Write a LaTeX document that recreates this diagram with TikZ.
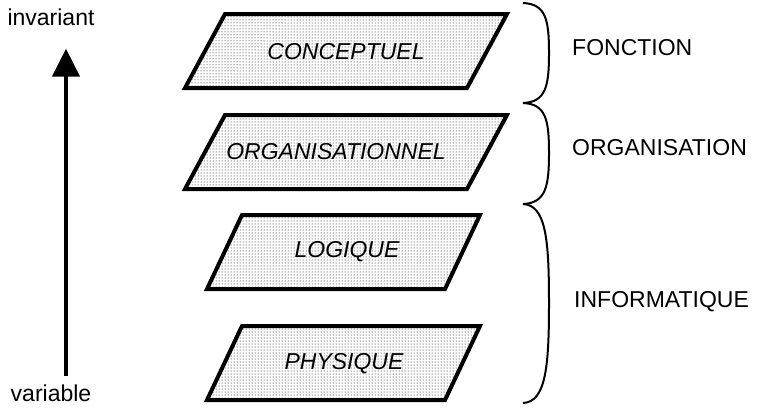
\documentclass[tikz,border=0pt]{standalone}
\usepackage{fontspec}
\setmainfont{Liberation Sans}
\usepackage{tikz}
\usetikzlibrary{arrows.meta, patterns}

\begin{document}
\begin{tikzpicture}[x=1pt, y=-1pt]
\tikzset{slab/.style={draw, line width=4pt, line join=miter, pattern=dots, pattern color=black},
		layer/.style={inner sep=0pt, font=\fontsize{23}{28}\selectfont\itshape},
		level/.style={anchor=west, inner sep=0pt, font=\fontsize{23}{28}\selectfont},
		axis/.style={inner sep=2pt, font=\fontsize{23}{28}\selectfont},
		rise/.style={line width=4.5pt, -{Triangle[length=28pt, width=27pt]}, shorten <=6pt, shorten >=21pt},
		grouping/.style={line width=2pt}}
\useasboundingbox (0,0) rectangle (757,407);
% the four levels
\draw[slab] (185,88) -- (225,14) -- (507,14) -- (467,88) -- cycle;
\node[layer] (conc) at (346,52) {CONCEPTUEL};
\draw[slab] (185,189) -- (225,115) -- (507,115) -- (467,189) -- cycle;
\node[layer] (orga) at (336,152) {ORGANISATIONNEL};
\draw[slab] (207,289) -- (242,215) -- (480,215) -- (445,289) -- cycle;
\node[layer] (logi) at (347,252) {LOGIQUE};
\draw[slab] (207,400) -- (242,326) -- (480,326) -- (445,400) -- cycle;
\node[layer] (phys) at (344,364) {PHYSIQUE};
% axis
\node[axis] (inv) at (51,17) {invariant};
\node[axis] (var) at (51,393) {variable};
\draw[rise] (var.north -| 66,0) -- (inv.south -| 66,0);
% groups
\draw[grouping] (523,3) .. controls (546,4) and (549,20) .. (549,53) .. controls (549,86) and (546,102) .. (523,103);
\draw[grouping] (523,103) .. controls (546,104) and (549,120) .. (549,153) .. controls (549,186) and (546,203) .. (523,204);
\draw[grouping] (523,204) .. controls (546,205) and (549,240) .. (549,303) .. controls (549,366) and (546,402) .. (523,403);
\node[level] (fonc) at (572,48) {FONCTION};
\node[level] (orgl) at (572,148) {ORGANISATION};
\node[level] (info) at (574,302) {INFORMATIQUE};
\end{tikzpicture}
\end{document}
